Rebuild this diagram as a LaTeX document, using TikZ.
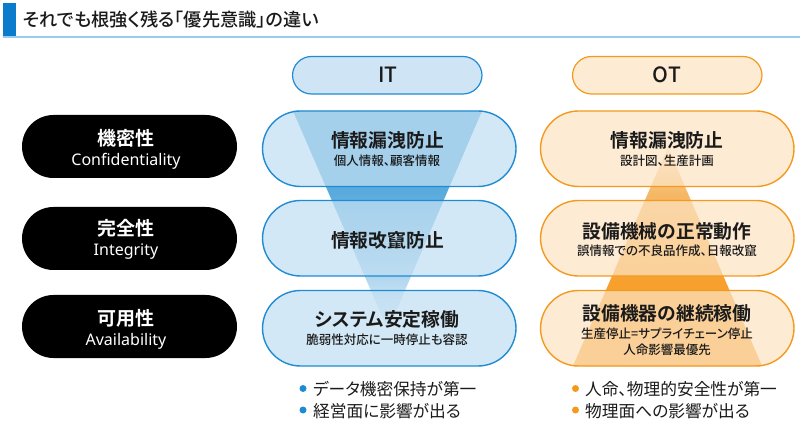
\documentclass[tikz,border=0pt]{standalone}
\usepackage{fontspec}
\setmainfont{Noto Sans CJK JP}[BoldFont={Noto Sans CJK JP Bold},RawFeature=+palt]
\newfontfamily\medfont{Noto Sans CJK JP Medium}[RawFeature=+palt]
\newfontfamily\latinfont{Noto Sans}
\definecolor{itline}{HTML}{1F8BD3}
\definecolor{itfill}{HTML}{C2DFF2}
\definecolor{ithead}{HTML}{CFE5F5}
\definecolor{otline}{HTML}{F39A1E}
\definecolor{otfill}{HTML}{FCE3C2}
\definecolor{othead}{HTML}{FDEBD3}
\definecolor{titlebar}{HTML}{0A7CCB}
\definecolor{titleline}{HTML}{9ACDEB}
\definecolor{inkc}{HTML}{1A1A1A}
\definecolor{ita}{HTML}{5AABDD}
\definecolor{itb}{HTML}{B5D9F0}
\definecolor{itc}{HTML}{F2F8FC}
\definecolor{ota}{HTML}{F7A02E}
\definecolor{otb}{HTML}{F5B866}
\definecolor{otc}{HTML}{FDE8CC}
\pgfdeclareverticalshading{ittrishade}{100bp}{
  color(0bp)=(itc); color(25bp)=(itc); color(36bp)=(itb);
  color(56bp)=(ita); color(100bp)=(ita)}
\pgfdeclareverticalshading{ottrishade}{100bp}{
  color(0bp)=(ota); color(44bp)=(ota); color(64.5bp)=(otb);
  color(75bp)=(otc); color(100bp)=(otc)}
\tikzset{
  itpill/.style={draw=itline,line width=1.4pt,fill=itfill,fill opacity=.72,rounded corners=38pt},
  otpill/.style={draw=otline,line width=1.4pt,fill=otfill,fill opacity=.72,rounded corners=38pt},
  itheadpill/.style={draw=itline,line width=1.2pt,fill=ithead,rounded corners=19pt},
  otheadpill/.style={draw=otline,line width=1.2pt,fill=othead,rounded corners=19pt},
  blackpill/.style={fill=black,rounded corners=31.5pt},
  mainlabel/.style={font=\fontsize{18.8}{22}\selectfont\bfseries,text=inkc,inner sep=0pt},
  sublabel/.style={font=\medfont\fontsize{12.5}{16}\selectfont,text=inkc,align=center,inner sep=0pt},
  headlabel/.style={font=\medfont\fontsize{21}{24}\selectfont,text=inkc,inner sep=0pt},
  blackjp/.style={font=\fontsize{19}{22}\selectfont\bfseries,text=white,inner sep=0pt},
  blacken/.style={font=\latinfont\fontsize{16}{19}\selectfont,text=white,inner sep=0pt},
  bullettext/.style={font=\fontsize{16.7}{19}\selectfont,text=inkc,anchor=west,inner sep=0pt},
  dotblue/.style={circle,fill=itline,minimum size=7pt,inner sep=0pt},
  dotorange/.style={circle,fill=otline,minimum size=7pt,inner sep=0pt},
}
\begin{document}
\begin{tikzpicture}[x=1pt,y=-1pt]
\useasboundingbox (0,0) rectangle (800,427);
% title
\fill[titlebar] (3,3) rectangle (16,36);
\fill[titleline] (3,36) rectangle (800,38);
\node[anchor=west,inner sep=0pt,font=\medfont\fontsize{18.2}{20}\selectfont,text=inkc] (title) at (23,20) {それでも根強く残る「優先意識」の違い};
% triangles
\shade[shading=ittrishade] (293,111) -- (482,111) -- (388,330) -- cycle;
\shade[shading=ottrishade] (668,147) -- (762,366) -- (573,366) -- cycle;
% headers
\draw[itheadpill] (292.5,56.5) rectangle (482,94);
\draw[otheadpill] (572.5,56.5) rectangle (762,94);
\node[headlabel] (it) at (388,75) {IT};
\node[headlabel] (ot) at (667,75) {OT};
% IT pills
\draw[itpill] (262.5,111) rectangle (516,186.5);
\draw[itpill] (262.5,200.5) rectangle (516,276);
\draw[itpill] (262.5,290.5) rectangle (516,366);
% OT pills
\draw[otpill] (540.5,111) rectangle (794,186.5);
\draw[otpill] (540.5,200.5) rectangle (794,276);
\draw[otpill] (540.5,290.5) rectangle (794,366);
% black
\fill[blackpill] (22,115) rectangle (237,178);
\fill[blackpill] (22,207) rectangle (237,270);
\fill[blackpill] (22,295) rectangle (237,358);
\node[blackjp] (c1) at (126,138) {機密性};
\node[blacken] (c2) at (126,161) {Confidentiality};
\node[blackjp] (i1) at (126,228) {完全性};
\node[blacken] (i2) at (126,251.5) {Integrity};
\node[blackjp] (a1) at (126,318) {可用性};
\node[blacken] (a2) at (126,341) {Availability};
% IT text
\node[mainlabel] (t1) at (387.5,140) {情報漏洩防止};
\node[sublabel] (t2) at (387,161) {個人情報、顧客情報};
\node[mainlabel] (t3) at (387.5,240) {情報改竄防止};
\node[mainlabel] (t4) at (387,319) {システム安定稼働};
\node[sublabel] (t5) at (387,340) {脆弱性対応に一時停止も容認};
% OT text
\node[mainlabel] (o1) at (667,140) {情報漏洩防止};
\node[sublabel] (o2) at (667,161) {設計図、生産計画};
\node[mainlabel] (o3) at (667,231) {設備機械の正常動作};
\node[sublabel] (o4) at (667,251) {誤情報での不良品作成、日報改竄};
\node[mainlabel] (o5) at (667,313) {設備機器の継続稼働};
\node[sublabel] (o6) at (667,342) {生産停止=サプライチェーン停止\\人命影響最優先};
% bullets
\node[dotblue] (b1) at (303,388.5) {};
\node[dotblue] (b2) at (303,410) {};
\node[bullettext] (bt1) at (313,389) {データ機密保持が第一};
\node[bullettext] (bt2) at (313,411) {経営面に影響が出る};
\node[dotorange] (b3) at (575.5,388.5) {};
\node[dotorange] (b4) at (575.5,410) {};
\node[bullettext] (bt3) at (585,389) {人命、物理的安全性が第一};
\node[bullettext] (bt4) at (585,411) {物理面への影響が出る};
\end{tikzpicture}
\end{document}
